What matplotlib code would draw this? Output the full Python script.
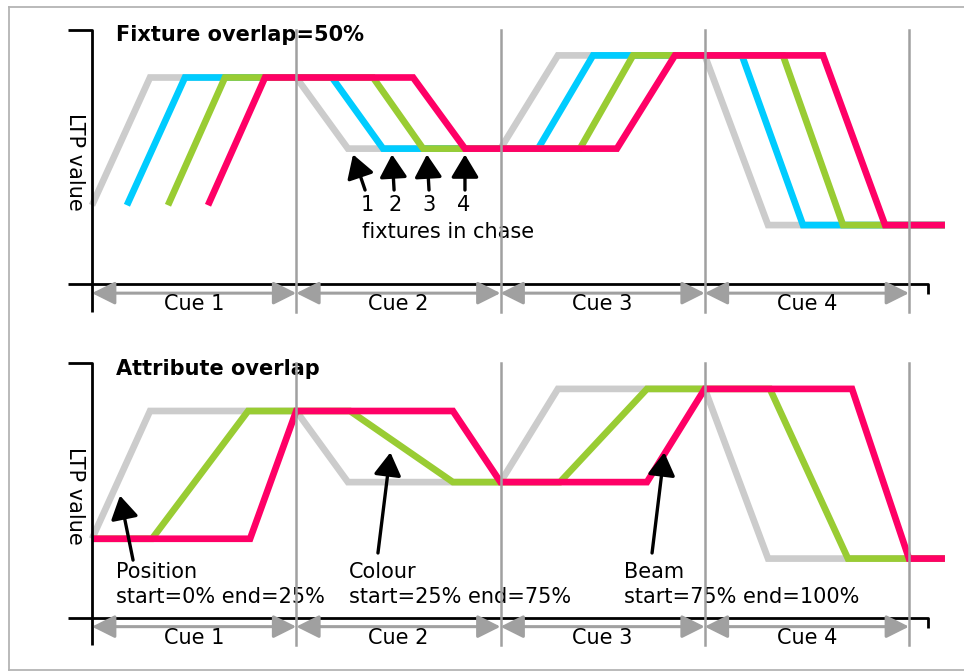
import matplotlib
matplotlib.use("Agg")
import matplotlib.pyplot as plt
from matplotlib.lines import Line2D

# ---------------- data ----------------
cues = ["Cue 1", "Cue 2", "Cue 3", "Cue 4"]
cue_bounds = [0, 1, 2, 3, 4]

# LTP levels (percent of axis height)
L0, H1, M2, H3, L4 = 31.0, 81.3, 53.3, 90.0, 23.2

# top panel: fixture overlap (time in cue units)
fix_gray_t = [0.0, 0.284, 1.0, 1.253, 2.0, 2.281, 3.0, 3.310, 4.176]
fix_gray_v = [L0, H1, H1, M2, M2, H3, H3, L4, L4]
fix_blue_t = [0.171, 0.455, 1.175, 1.425, 2.184, 2.453, 3.182, 3.481, 4.176]
fix_blue_v = [L0, H1, H1, M2, M2, H3, H3, L4, L4]
fix_green_t = [0.372, 0.651, 1.376, 1.621, 2.389, 2.649, 3.383, 3.677, 4.176]
fix_green_v = [L0, H1, H1, M2, M2, H3, H3, L4, L4]
fix_red_t = [0.568, 0.847, 1.572, 1.826, 2.570, 2.854, 3.579, 3.883, 4.176]
fix_red_v = [L0, H1, H1, M2, M2, H3, H3, L4, L4]

# bottom panel: attribute overlap
pos_t = [0.0, 0.284, 1.0, 1.253, 2.0, 2.281, 3.0, 3.310, 4.176]
pos_v = [L0, H1, H1, M2, M2, H3, H3, L4, L4]
col_t = [0.0, 0.294, 0.764, 1.263, 1.767, 2.291, 2.717, 3.319, 3.701, 4.176]
col_v = [L0, L0, H1, H1, M2, M2, H3, H3, L4, L4]
beam_t = [0.0, 0.774, 1.0, 1.767, 2.0, 2.717, 3.0, 3.721, 4.0, 4.176]
beam_v = [L0, L0, H1, H1, M2, M2, H3, H3, L4, L4]

fixture_labels = ["1", "2", "3", "4"]

# ---------------- style ----------------
GRAY = "#cccccc"
BLUE = "#00ccff"
GREEN = "#99cc33"
PINK = "#ff0066"
FS = 15
LW = 4.8

W, H = 964, 671
fig = plt.figure(figsize=(W / 100, H / 100), dpi=100)

PX_PER_T = 204.25
PX_PER_V = 2.54
X0 = 92.0
XMIN = -X0 / PX_PER_T
XMAX = (W - X0) / PX_PER_T
PANEL_H = 335.0


def make_axes(top_px, zero_px):
    bottom = (H - (top_px + PANEL_H)) / H
    ax = fig.add_axes([0, bottom, 1, PANEL_H / H])
    ax.set_xlim(XMIN, XMAX)
    ymax = (zero_px - top_px) / PX_PER_V
    ymin = -(top_px + PANEL_H - zero_px) / PX_PER_V
    ax.set_ylim(ymin, ymax)
    ax.axis("off")
    return ax


def draw_frame(ax, title):
    k = dict(color="black", lw=2.0, solid_capstyle="butt", zorder=3)
    xl = -24 / PX_PER_T
    ax.plot([xl, 0, 0], [100, 100, -11], **k)
    xr = (928 - X0) / PX_PER_T
    ax.plot([xl, xr, xr], [0, 0, -4.0], **k)
    for b in cue_bounds[1:]:
        ax.plot([b, b], [100, -11], color="#a0a0a0", lw=1.8, zorder=4)
    for i, name in enumerate(cues):
        ax.annotate("", xy=(cue_bounds[i + 1], -3.6), xytext=(cue_bounds[i], -3.6),
                    arrowprops=dict(arrowstyle="<|-|>,head_length=1.0,head_width=0.5",
                                    mutation_scale=14, color="#a0a0a0", lw=2.2,
                                    shrinkA=0, shrinkB=0), zorder=3)
        ax.text((cue_bounds[i] + cue_bounds[i + 1]) / 2, -8.0, name, ha="center",
                va="center", fontsize=FS)
    ax.text(24 / PX_PER_T, 98.0, title, fontsize=FS, fontweight="bold",
            ha="left", va="center")
    ax.text(-17 / PX_PER_T, 48, "LTP value", rotation=-90, fontsize=FS,
            ha="center", va="center")


def series(ax, t, v, c):
    ax.plot(t, v, color=c, lw=LW, solid_joinstyle="miter", solid_capstyle="butt",
            zorder=2)


def black_arrow(ax, tail, tip):
    ax.annotate("", xy=tip, xytext=tail,
                arrowprops=dict(arrowstyle="-|>,head_length=1.0,head_width=0.6",
                                mutation_scale=14, color="black", lw=2.4,
                                shrinkA=0, shrinkB=0), zorder=5)


# ---------------- top panel ----------------
ax1 = make_axes(0, 284)
draw_frame(ax1, "Fixture overlap=50%")
series(ax1, fix_gray_t, fix_gray_v, GRAY)
series(ax1, fix_blue_t, fix_blue_v, BLUE)
series(ax1, fix_green_t, fix_green_v, GREEN)
series(ax1, fix_red_t, fix_red_v, PINK)

tails = [(1.337, 37.0), (1.479, 37.0), (1.650, 37.0), (1.826, 37.0)]
tips = [(1.278, 51.0), (1.469, 51.0), (1.640, 51.0), (1.826, 51.0)]
label_x = [1.347, 1.484, 1.650, 1.821]
for tl, tp, lx, lab in zip(tails, tips, label_x, fixture_labels):
    black_arrow(ax1, tl, tp)
    ax1.text(lx, 31.0, lab, fontsize=FS, ha="center", va="center")
ax1.text(1.322, 20.5, "fixtures in chase", fontsize=FS, ha="left", va="center")

# ---------------- bottom panel ----------------
ax2 = make_axes(333.5, 617.5)
draw_frame(ax2, "Attribute overlap")
series(ax2, pos_t, pos_v, GRAY)
series(ax2, col_t, col_v, GREEN)
series(ax2, beam_t, beam_v, PINK)

black_arrow(ax2, (0.201, 22.6), (0.137, 48.0))
black_arrow(ax2, (1.400, 25.4), (1.461, 65.0))
black_arrow(ax2, (2.742, 25.4), (2.802, 65.0))

for x, name, rng in [(0.1175, "Position", "start=0% end=25%"),
                     (1.258, "Colour", "start=25% end=75%"),
                     (2.605, "Beam", "start=75% end=100%")]:
    ax2.text(x, 17.8, name, fontsize=FS, ha="left", va="center")
    ax2.text(x, 7.9, rng, fontsize=FS, ha="left", va="center")

# ---------------- border ----------------
bc = "#b4b4b4"
fig.add_artist(Line2D([9 / W, 9 / W], [1 - 7 / H, 1 - 670 / H], color=bc, lw=1.3,
                      transform=fig.transFigure))
fig.add_artist(Line2D([9 / W, 1], [1 - 7 / H, 1 - 7 / H], color=bc, lw=1.3,
                      transform=fig.transFigure))
fig.add_artist(Line2D([9 / W, 1], [1 - 670 / H, 1 - 670 / H], color=bc, lw=1.3,
                      transform=fig.transFigure))

fig.savefig("out.png", dpi=100)
